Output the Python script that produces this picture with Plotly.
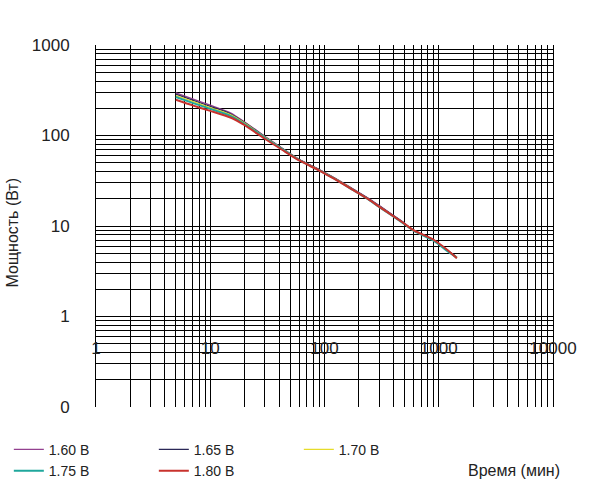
import plotly.graph_objects as go

# time, min
time_min = [5, 7, 10, 15, 20, 30, 45, 60, 90, 120, 180, 240, 300, 480, 600, 900, 1200, 1440]

# power, W, per end voltage
p_160 = [295, 254, 216, 178, 141, 98, 69, 54.5, 42, 34.5, 25.5, 20.4, 16.9, 11.2, 9.1, 7.0, 5.3, 4.5]
p_165 = [286, 246, 210, 174, 139, 97, 68.5, 54.2, 41.8, 34.3, 25.2, 20.2, 16.7, 11.1, 9.0, 7.0, 5.35, 4.55]
p_170 = [275, 238, 203, 170, 137, 96, 68, 54, 41.5, 34, 25, 20, 16.5, 11.0, 9.0, 6.95, 5.3, 4.5]
p_175 = [266, 229, 197, 165, 134, 94.5, 67.5, 53.5, 41.2, 33.7, 24.7, 19.8, 16.3, 10.9, 8.9, 6.9, 5.25, 4.45]
p_180 = [248, 215, 187, 158, 130, 92, 66.5, 53, 41, 33.5, 24.8, 19.9, 16.4, 11.0, 9.0, 7.05, 5.4, 4.4]

series = [
    ("1.60 В", p_160, "#93408f", 1.3),
    ("1.65 В", p_165, "#2b2857", 1.3),
    ("1.70 В", p_170, "#e6dc2a", 1.3),
    ("1.75 В", p_175, "#1fa79c", 2),
    ("1.80 В", p_180, "#c8322d", 2),
]

x_ticks = [1, 10, 100, 1000, 10000]
x_labels = ["1", "10", "100", "1000", "10000"]
y_ticks = [0.1, 1, 10, 100, 1000]
y_labels = ["0", "1", "10", "100", "1000"]

FONT = "Liberation Sans, Arial, sans-serif"

fig = go.Figure()
for name, vals, color, width in series:
    fig.add_trace(
        go.Scatter(x=time_min, y=vals, mode="lines", name=name,
                   line=dict(color=color, width=width, shape="spline", smoothing=0.6))
    )

grid = dict(showgrid=True, gridcolor="black", gridwidth=1)
fig.update_xaxes(
    type="log",
    range=[0, 4],
    tickvals=x_ticks,
    ticktext=x_labels,
    ticks="",
    anchor="free",
    position=0.195,
    showline=False,
    zeroline=False,
    automargin=False,
    tickfont=dict(size=17, color="#222"),
    minor=dict(dtick="D1", showgrid=True, gridcolor="black", gridwidth=1, ticks=""),
    **grid,
)
fig.update_yaxes(
    type="log",
    range=[-1, 3],
    tickvals=y_ticks,
    ticktext=y_labels,
    ticks="",
    ticklabelstandoff=22,
    showline=True,
    mirror=True,
    linecolor="black",
    zeroline=False,
    automargin=False,
    tickfont=dict(size=17, color="#222"),
    minor=dict(dtick="D1", showgrid=True, gridcolor="black", gridwidth=1, ticks=""),
    **grid,
)

fig.add_annotation(
    text="Мощность (Вт)", xref="paper", yref="paper", x=-0.183, y=0.483,
    xanchor="center", yanchor="middle", textangle=-90, showarrow=False,
    font=dict(size=16, color="#222"),
)
fig.add_annotation(
    text="Время (мин)", xref="paper", yref="paper", x=1.02, y=-0.175,
    xanchor="right", yanchor="middle", showarrow=False,
    font=dict(size=16, color="#222"),
)

fig.update_layout(
    width=589,
    height=493,
    margin=dict(l=96, r=36, t=45, b=86),
    paper_bgcolor="white",
    plot_bgcolor="white",
    font=dict(family=FONT, color="#222"),
    legend=dict(
        orientation="h",
        xref="container", yref="container",
        x=0.015, y=0.12,
        xanchor="left", yanchor="top",
        entrywidth=100,
        font=dict(size=14),
        bgcolor="rgba(0,0,0,0)",
    ),
)

fig.write_html(
    "out.html",
    config={"displayModeBar": False},
    post_script="document.body.style.margin='0';",
)
